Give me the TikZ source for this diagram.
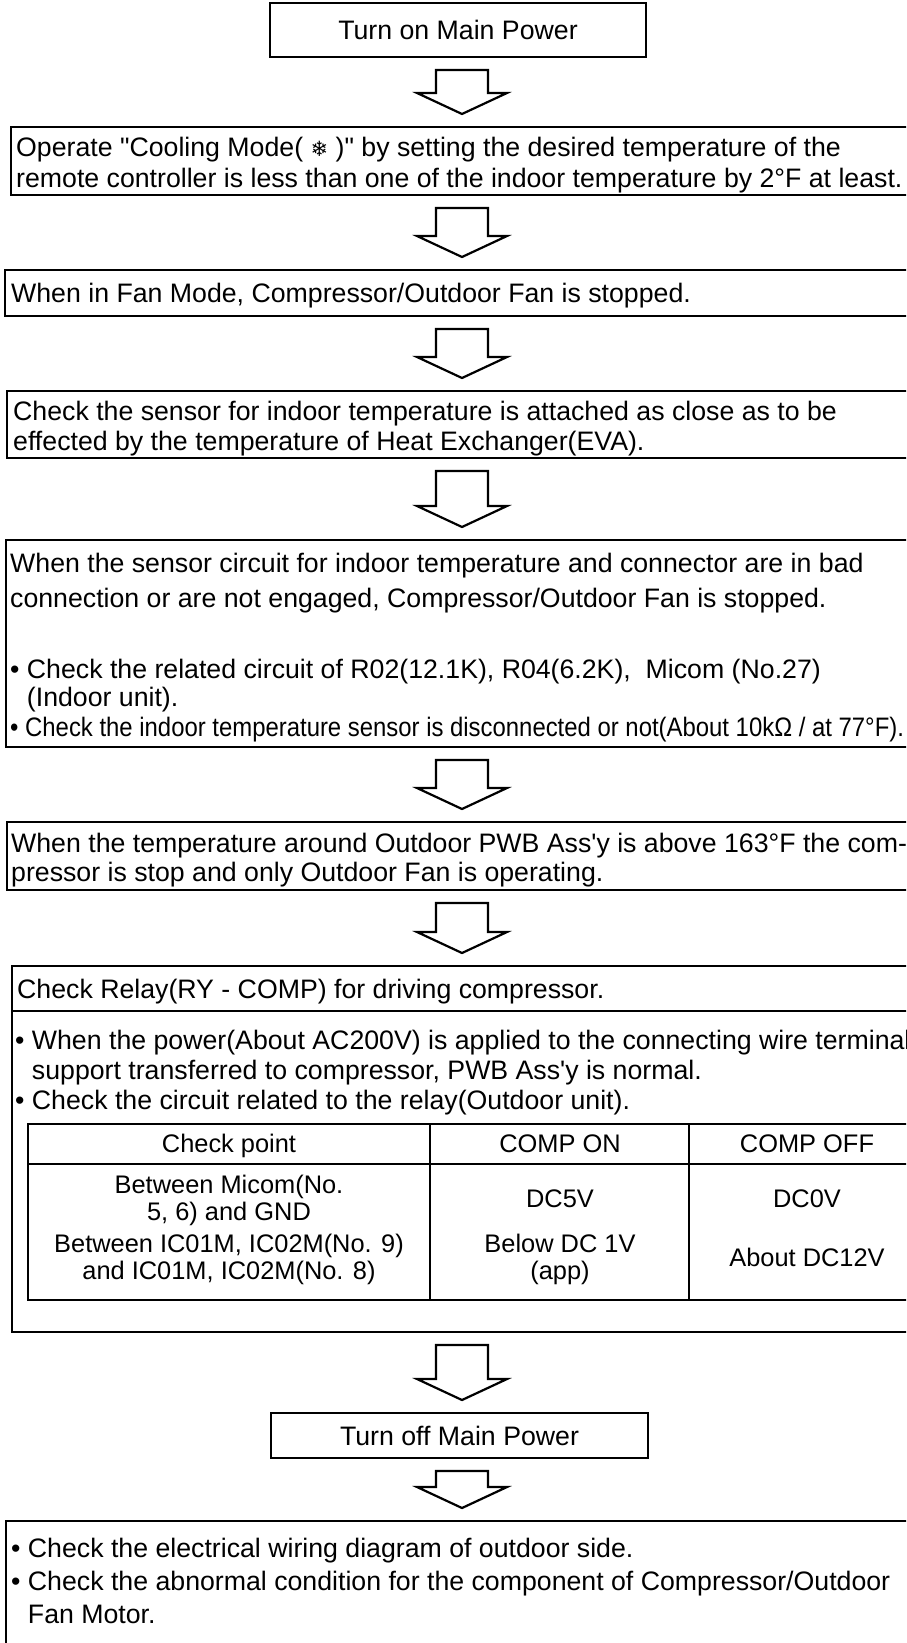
\documentclass[tikz,border=0pt]{standalone}
\usepackage{graphicx}
\usepackage{fontspec}
\newfontfamily\af{Liberation Sans}
\newfontfamily\dv{DejaVu Sans}
\usetikzlibrary{calc}
\newcommand{\mainsz}{\af\fontsize{26.7}{31}\selectfont}
\newcommand{\tblsz}{\af\fontsize{25.4}{27.5}\selectfont}
\newcommand{\snow}{{\dv\fontsize{21}{22}\selectfont ❄}}
\newcommand{\ind}{\hphantom{•\ }}
\tikzset{
  frame/.style={draw, line width=1.6pt, anchor=north west, inner sep=0pt, outer sep=0pt},
  titlebox/.style={frame, font=\mainsz},
  txt/.style={anchor=base west, inner sep=0pt, font=\mainsz},
  ttxt/.style={anchor=base, inner sep=0pt, font=\tblsz},
  barrowstyle/.style={draw, line width=2.2pt, fill=white, line join=miter},
  tline/.style={line width=1.3pt}
}
\newcommand{\blockarr}[2]{%
  \draw[barrowstyle] ($(#1.south -| ax)+(-26,13)$) -- ($(#1.south -| ax)+(26,13)$)
    -- ($(#2.north -| ax)+(26,-34)$) -- ($(#2.north -| ax)+(45,-34)$)
    -- ($(#2.north -| ax)+(0,-13)$) -- ($(#2.north -| ax)+(-45,-34)$)
    -- ($(#2.north -| ax)+(-26,-34)$) -- cycle;}
\begin{document}
\begin{tikzpicture}[x=1pt,y=-1pt]
\useasboundingbox (0,0) rectangle (906,1643);
\clip (0,0) rectangle (906,1643);
\coordinate (ax) at (462,0);

% boxes
\node[titlebox, minimum width=376pt, minimum height=54pt] (b1) at (270,3) {Turn on Main Power};
\node[frame, minimum width=914pt, minimum height=68pt] (b2) at (11,127) {};
\node[frame, minimum width=920pt, minimum height=46pt] (b3) at (5,270) {};
\node[frame, minimum width=918pt, minimum height=67pt] (b4) at (7,391) {};
\node[frame, minimum width=919pt, minimum height=207pt] (b5) at (6,540) {};
\node[frame, minimum width=918pt, minimum height=68pt] (b6) at (7,822) {};
\node[frame, minimum width=913pt, minimum height=366pt] (b7) at (12,966) {};
\node[titlebox, minimum width=377pt, minimum height=45pt] (b8) at (271,1413) {Turn off Main Power};
\node[frame, minimum width=919pt, minimum height=140pt] (b9) at (6,1521) {};

% texts
\node[txt] (t2a) at (16,157) {Operate "Cooling Mode( \snow\ )" by setting the desired temperature of the};
\node[txt] (t2b) at (16,187) {remote controller is less than one of the indoor temperature by 2°F at least.};
\node[txt] (t3) at (11,302) {When in Fan Mode, Compressor/Outdoor Fan is stopped.};
\node[txt] (t4a) at (13,420) {Check the sensor for indoor temperature is attached as close as to be};
\node[txt] (t4b) at (13,450) {effected by the temperature of Heat Exchanger(EVA).};
\node[txt] (t5a) at (10,572) {When the sensor circuit for indoor temperature and connector are in bad};
\node[txt] (t5b) at (10,607) {connection or are not engaged, Compressor/Outdoor Fan is stopped.};
\node[txt] (t5c) at (10,678) {• Check the related circuit of R02(12.1K), R04(6.2K),\ \ Micom (No.27)};
\node[txt] (t5d) at (10,706) {\ind(Indoor unit).};
\node[txt] (t5e) at (10,736) {\scalebox{0.895}[1]{• Check the indoor temperature sensor is disconnected or not(About 10kΩ / at 77°F).}};
\node[txt] (t6a) at (11,852) {When the temperature around Outdoor PWB Ass'y is above 163°F the com-};
\node[txt] (t6b) at (11,881) {pressor is stop and only Outdoor Fan is operating.};

\node[txt] (t7a) at (17,998) {Check Relay(RY - COMP) for driving compressor.};
\coordinate (dv) at (0,1011);
\draw[line width=1.6pt] (b7.west |- dv) -- (b7.east |- dv);
\node[txt] (t7b) at (15,1049) {• When the power(About AC200V) is applied to the connecting wire terminal};
\node[txt] (t7c) at (15,1079) {\ind support transferred to compressor, PWB Ass'y is normal.};
\node[txt] (t7d) at (15,1109) {• Check the circuit related to the relay(Outdoor unit).};

% table
\node[draw, tline, anchor=north west, inner sep=0pt, outer sep=0pt, minimum width=900pt, minimum height=176pt] (tbl) at (28,1124) {};
\coordinate (c1) at (430,0);
\coordinate (c2) at (689,0);
\coordinate (hl) at (0,1164);
\draw[tline] (tbl.north -| c1) -- (tbl.south -| c1);
\draw[tline] (tbl.north -| c2) -- (tbl.south -| c2);
\draw[tline] (tbl.west |- hl) -- (tbl.east |- hl);
\node[ttxt] (h1) at (229,1152) {Check point};
\node[ttxt] (h2) at (560,1152) {COMP ON};
\node[ttxt] (h3) at (807,1152) {COMP OFF};
\node[ttxt] (r1a) at (229,1193) {Between Micom(No.};
\node[ttxt] (r1b) at (229,1220) {5, 6) and GND};
\node[ttxt] (r2a) at (229,1252) {Between IC01M, IC02M(No. 9)};
\node[ttxt] (r2b) at (229,1279) {and IC01M, IC02M(No. 8)};
\node[ttxt] (v1) at (560,1207) {DC5V};
\node[ttxt] (v2) at (807,1207) {DC0V};
\node[ttxt] (v3) at (560,1252) {Below DC 1V};
\node[ttxt] (v4) at (560,1279) {(app)};
\node[ttxt] (v5) at (807,1266) {About DC12V};

\node[txt] (t9a) at (11,1557) {• Check the electrical wiring diagram of outdoor side.};
\node[txt] (t9b) at (11,1590) {• Check the abnormal condition for the component of Compressor/Outdoor};
\node[txt] (t9c) at (11,1623) {\ind Fan Motor.};

% arrows
\blockarr{b1}{b2}
\blockarr{b2}{b3}
\blockarr{b3}{b4}
\blockarr{b4}{b5}
\blockarr{b5}{b6}
\blockarr{b6}{b7}
\blockarr{b7}{b8}
\blockarr{b8}{b9}
\end{tikzpicture}
\end{document}
